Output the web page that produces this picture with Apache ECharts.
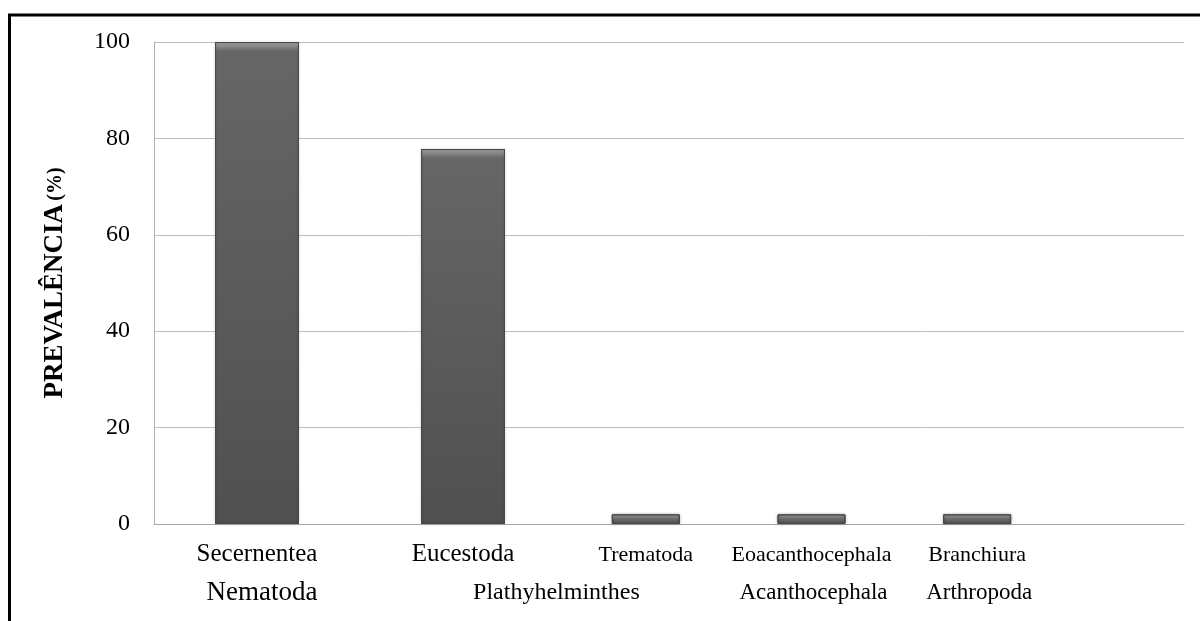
<!DOCTYPE html>
<html>
<head>
<meta charset="utf-8">
<script src="https://cdn.jsdelivr.net/npm/echarts@6/dist/echarts.min.js"></script>
<style>
  html, body { margin: 0; padding: 0; background: #fff; }
  #chart { width: 1200px; height: 621px; }
</style>
</head>
<body>
<div id="chart"></div>
<script>
// ---- data ----
const categories = ['Secernentea', 'Eucestoda', 'Trematoda', 'Eoacanthocephala', 'Branchiura'];
const prevalence = [100, 77.8, 2, 2, 2];
const phyla = ['Nematoda', 'Plathyhelminthes', 'Acanthocephala', 'Arthropoda'];
const phylumOfCategory = [0, 1, 1, 2, 3];
const yMin = 0, yMax = 100, yInterval = 20;
const yTitle = 'PREVALÊNCIA';
const yUnit = '(%)';

// ---- layout (the reference draws the first two taxa wider than the last three) ----
const panelOfCategory = [0, 0, 1, 1, 1];
const panels = [
  { left: 154, width: 412, barWidth: 84, labelSize: 25, labelMargin: 18 },
  { left: 563, width: 497, barWidth: 68, labelSize: 22, labelMargin: 20 }
];
const plotTop = 42, plotBottom = 97, plotLeft = 154, plotRight = 16;
const phylumSize = [27, 24, 23, 23];
const serif = '"Liberation Serif", "Times New Roman", serif';

const chart = echarts.init(document.getElementById('chart'), null, { renderer: 'canvas' });

const baseStyle = {
  color: '#5e5e5e',
  borderColor: '#484848',
  borderWidth: 1,
  shadowColor: 'rgba(0,0,0,0.25)',
  shadowBlur: 3
};

const grids = [{ left: plotLeft, right: plotRight, top: plotTop, bottom: plotBottom }];
const xAxes = [{
  type: 'category', gridIndex: 0, data: [''],
  axisLine: { show: true, lineStyle: { color: '#a6a6a6', width: 1 } },
  axisTick: { show: false }, axisLabel: { show: false }
}];
const yAxes = [{
  type: 'value', gridIndex: 0, min: yMin, max: yMax, interval: yInterval,
  axisLine: { show: true, lineStyle: { color: '#b0b0b0', width: 1 } },
  axisTick: { show: false },
  splitLine: { show: true, lineStyle: { color: '#bdbdbd', width: 1 } },
  axisLabel: { color: '#000', fontFamily: serif, fontSize: 24, margin: 24 },
  name: '{a|' + yTitle + '} {b|' + yUnit + '}',
  nameLocation: 'middle', nameRotate: 90, nameGap: 85,
  nameTextStyle: {
    rich: {
      a: { fontFamily: serif, fontSize: 27, fontWeight: 'bold', color: '#000' },
      b: { fontFamily: serif, fontSize: 20, fontWeight: 'bold', color: '#000' }
    }
  }
}];
const series = [];
const panelIdx = [];

panels.forEach((p, pi) => {
  const idx = categories.map((c, i) => i).filter(i => panelOfCategory[i] === pi);
  panelIdx.push(idx);
  grids.push({ left: p.left, width: p.width, top: plotTop, bottom: plotBottom });
  xAxes.push({
    type: 'category', gridIndex: pi + 1, data: idx.map(i => categories[i]),
    axisLine: { show: false }, axisTick: { show: false },
    axisLabel: { color: '#000', fontFamily: serif, fontSize: p.labelSize, margin: p.labelMargin, interval: 0 }
  });
  yAxes.push({
    type: 'value', gridIndex: pi + 1, min: yMin, max: yMax, interval: yInterval,
    show: false, splitLine: { show: false }
  });
  series.push({
    type: 'bar', xAxisIndex: pi + 1, yAxisIndex: pi + 1,
    data: idx.map(i => prevalence[i]),
    barWidth: p.barWidth,
    itemStyle: baseStyle,
    silent: true
  });
});

chart.setOption({
  animation: false,
  backgroundColor: '#fff',
  grid: grids,
  xAxis: xAxes,
  yAxis: yAxes,
  series: series
});

// bevelled look: a light strip at each bar's top, in pixel units from the axis scale
const bevel = 8;
const shadedSeries = panelIdx.map((idx, pi) => ({
  data: idx.map(i => {
    const yTop = chart.convertToPixel({ yAxisIndex: pi + 1 }, prevalence[i]);
    const yBot = chart.convertToPixel({ yAxisIndex: pi + 1 }, yMin);
    const h = Math.max(yBot - yTop, 1);
    const b = Math.min(bevel / h, 0.45);
    return {
      value: prevalence[i],
      itemStyle: {
        color: {
          type: 'linear', global: true, x: 0, y: yTop, x2: 0, y2: yBot,
          colorStops: [
            { offset: 0, color: '#a0a0a0' },
            { offset: b * 0.5, color: '#8a8a8a' },
            { offset: b, color: '#6c6c6c' },
            { offset: Math.min(b * 1.3, 0.6), color: '#666666' },
            { offset: 1, color: '#505050' }
          ]
        }
      }
    };
  })
}));
chart.setOption({ series: shadedSeries });

// second row: phylum labels centred under the taxa they group
const graphics = [{
  type: 'rect', silent: true,
  shape: { x: 9.5, y: 15, width: 1400, height: 800 },
  style: { fill: 'none', stroke: '#000', lineWidth: 3 }
}];
phyla.forEach((name, k) => {
  const xs = [];
  categories.forEach((c, i) => {
    if (phylumOfCategory[i] === k) {
      xs.push(chart.convertToPixel({ xAxisIndex: panelOfCategory[i] + 1 }, c));
    }
  });
  const cx = (Math.min(...xs) + Math.max(...xs)) / 2;
  graphics.push({
    type: 'text', silent: true,
    x: cx + (k === 0 ? 5 : 2), y: 593,
    style: {
      text: name, fill: '#000', font: phylumSize[k] + 'px ' + serif,
      align: 'center', verticalAlign: 'middle'
    }
  });
});
chart.setOption({ graphic: graphics });
</script>
</body>
</html>
